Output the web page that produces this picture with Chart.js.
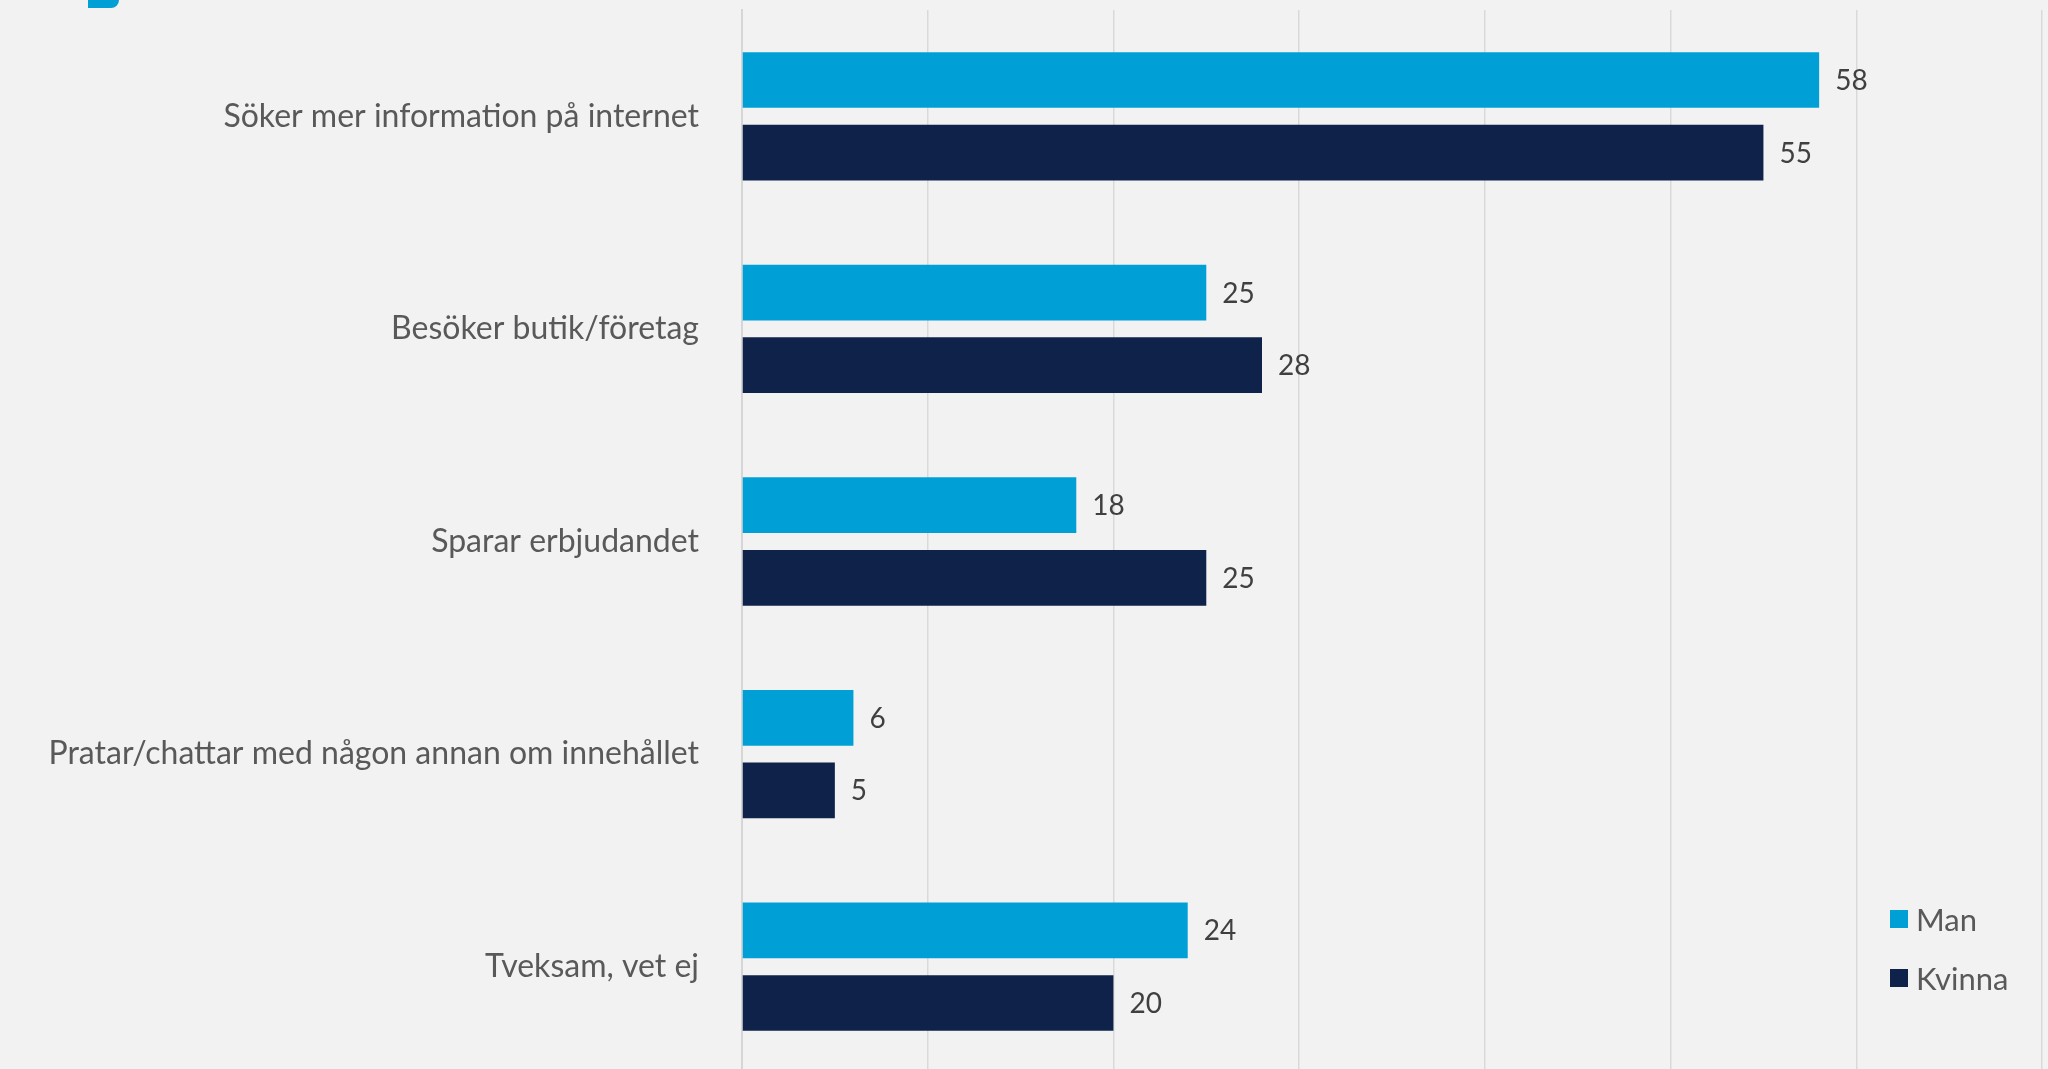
<!DOCTYPE html>
<html lang="sv">
<head>
<meta charset="utf-8">
<title>Man / Kvinna</title>
<script src="https://cdn.jsdelivr.net/npm/chart.js@4"></script>
<style>
  html, body { margin: 0; padding: 0; background: #f2f2f2; overflow: hidden; }
  #wrap { position: relative; width: 2048px; height: 1069px; overflow: hidden; }
  #chart { position: absolute; left: 0; top: 0; }
  .mark { position: absolute; left: 88px; top: 0; width: 31px; height: 8px; background: #00a0d6; border-bottom-right-radius: 8px; }
  #legend { position: absolute; left: 1890px; top: 899px; font-family: Lato, sans-serif; font-size: 31px; color: #595959; }
  .item { display: flex; align-items: center; height: 40px; margin-bottom: 19px; }
  .box { width: 18px; height: 18px; margin-right: 8px; }
</style>
</head>
<body>
<div id="wrap">
  <div class="mark"></div>
  <canvas id="chart" width="2048" height="1081"></canvas>
  <div id="legend"></div>
</div>
<script>
const categories = [
    'Söker mer information på internet',
    'Besöker butik/företag',
    'Sparar erbjudandet',
    'Pratar/chattar med någon annan om innehållet',
    'Tveksam, vet ej'
];
const seriesNames = ['Man', 'Kvinna'];
const manValues = [58, 25, 18, 6, 24];
const kvinnaValues = [55, 28, 25, 5, 20];
const xTicks = [0, 10, 20, 30, 40, 50, 60, 70];

const colors = ['#00a0d6', '#0f224a'];

// writes the number just past the end of each bar
const valueLabels = {
    id: 'valueLabels',
    afterDatasetsDraw(chart) {
        const ctx = chart.ctx;
        ctx.save();
        ctx.font = '28px Lato, sans-serif';
        ctx.fillStyle = '#404040';
        ctx.textAlign = 'left';
        ctx.textBaseline = 'middle';
        chart.data.datasets.forEach((ds, i) => {
            chart.getDatasetMeta(i).data.forEach((bar, j) => {
                ctx.fillText(ds.data[j], bar.x + 16, bar.y + 1);
            });
        });
        ctx.restore();
    }
};

new Chart(document.getElementById('chart'), {
    type: 'bar',
    data: {
        labels: categories,
        datasets: [
            { label: seriesNames[0], data: manValues, backgroundColor: colors[0] },
            { label: seriesNames[1], data: kvinnaValues, backgroundColor: colors[1] }
        ]
    },
    options: {
        indexAxis: 'y',
        responsive: false,
        animation: false,
        categoryPercentage: 0.683,
        barPercentage: 0.767,
        layout: { padding: { top: 10, right: 6, bottom: 0, left: 0 } },
        plugins: {
            legend: { display: false },
            tooltip: { enabled: false }
        },
        scales: {
            x: {
                min: xTicks[0],
                max: xTicks[xTicks.length - 1],
                afterBuildTicks: s => { s.ticks = xTicks.map(v => ({ value: v })); },
                ticks: { display: false },
                border: { display: false },
                grid: { color: '#d9d9d9', lineWidth: 1.5, drawTicks: false }
            },
            y: {
                afterFit: s => { s.width = 742; },
                // tick marks are invisible; their length gives the gap between labels and bars
                grid: { drawOnChartArea: false, drawTicks: true, tickLength: 43, tickColor: 'rgba(0,0,0,0)' },
                border: { color: '#d6d6d6', width: 2 },
                ticks: {
                    padding: 0,
                    color: '#595959',
                    font: { family: 'Lato, sans-serif', size: 32, lineHeight: 0.5 }
                }
            }
        }
    },
    plugins: [valueLabels]
});

document.getElementById('legend').innerHTML = seriesNames.map((n, i) =>
    `<div class="item"><span class="box" style="background:${colors[i]}"></span>${n}</div>`
).join('');
</script>
</body>
</html>
